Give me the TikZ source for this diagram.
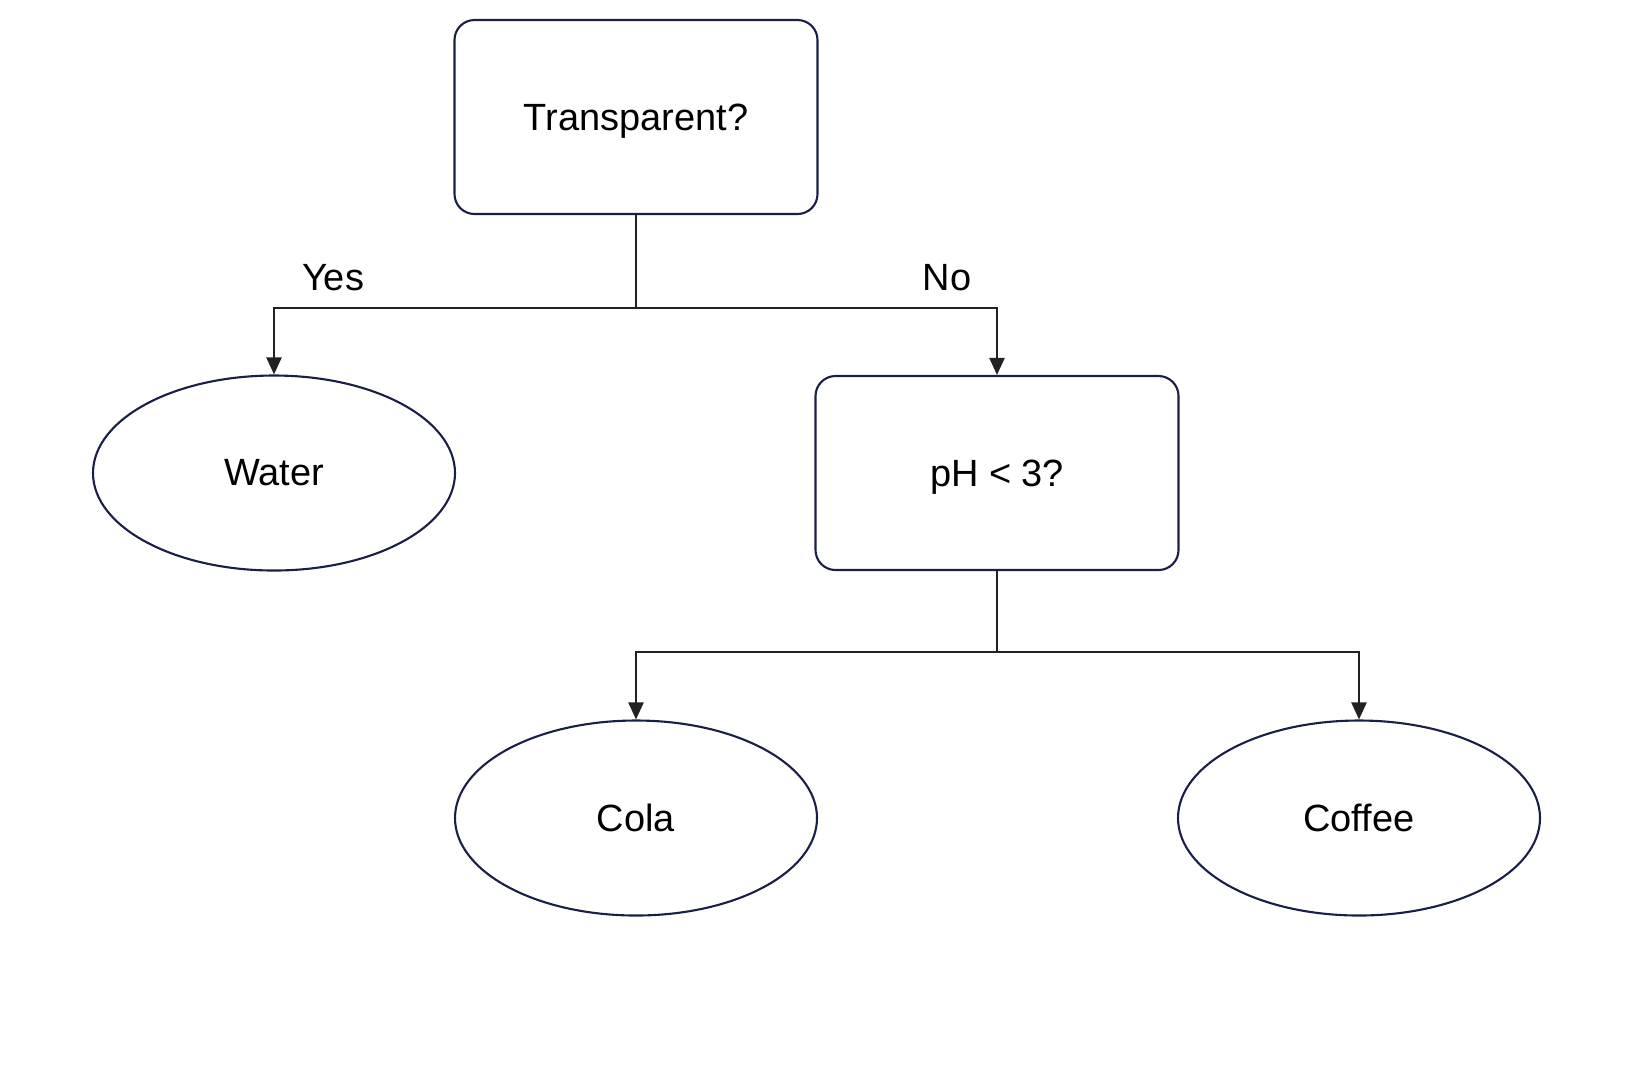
\documentclass[tikz,border=0pt]{standalone}
\usepackage{fontspec}
\setmainfont{Liberation Sans}
\usetikzlibrary{arrows.meta,shapes.geometric}

\definecolor{navyline}{RGB}{26,31,72}
\definecolor{wireline}{RGB}{34,34,34}

\tikzset{
question/.style={draw=navyline,line width=0.6pt,rounded corners=0.2cm,
minimum width=3.63cm,minimum height=1.94cm,text depth=0pt},
leaf/.style={draw=navyline,line width=0.6pt,ellipse,
minimum width=3.62cm,minimum height=1.95cm},
branch/.style={draw=wireline,line width=0.65pt,
-{Triangle[length=0.17cm,width=0.15cm]}},
answer/.style={inner sep=0pt}
}

\begin{document}
\begin{tikzpicture}[scale=1,font=\fontsize{10.8}{13}\selectfont]

\useasboundingbox (0,0) rectangle (16.4,-10.64);

% Questions
\node[question] (trans)
at (6.36,-1.17)
{Transparent?};

\node[question] (ph)
at (9.97,-4.73)
{pH < 3?};

% Feuilles
\node[leaf] (water)
at (2.74,-4.73)
{Water};

\node[leaf] (cola)
at (6.36,-8.18)
{Cola};

\node[leaf] (coffee)
at (13.59,-8.18)
{Coffee};

% Embranchements
\coordinate (split1) at (6.36,-3.08);
\coordinate (split2) at (9.97,-6.52);

\draw[branch]
(trans.south)
--
(split1)
-|
(water.north);

\draw[branch]
(split1)
-|
(ph.north);

\draw[branch]
(ph.south)
--
(split2)
-|
(cola.north);

\draw[branch]
(split2)
-|
(coffee.north);

% Reponses
\node[answer] (yes)
at (3.33,-2.78)
{Yes};

\node[answer] (no)
at (9.47,-2.78)
{No};

\end{tikzpicture}
\end{document}
